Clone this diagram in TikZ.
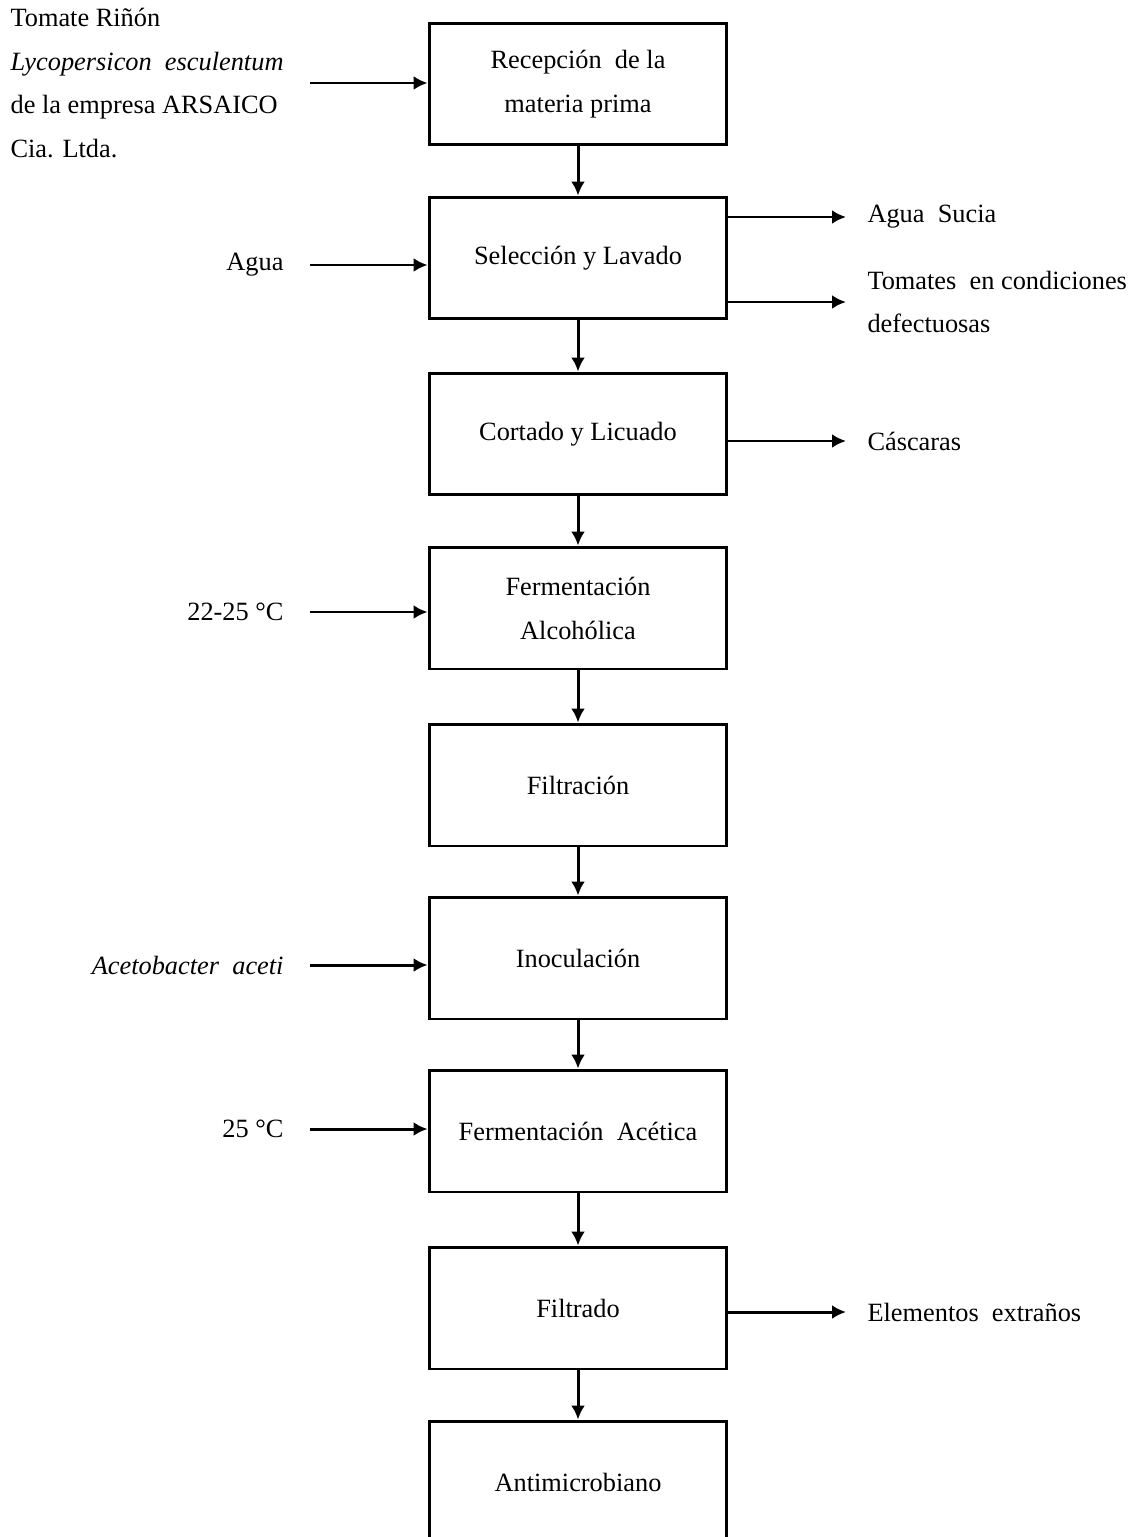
\documentclass[tikz,border=0pt]{standalone}
\usepackage{fontspec}
\setmainfont{Liberation Serif}
\usetikzlibrary{arrows.meta}

\begin{document}
\begin{tikzpicture}[x=0.02cm,y=-0.02cm,line width=1.7pt,>={Latex[length=0.28cm,width=0.28cm]},
	every node/.style={font=\fontsize{15}{25}\selectfont},
	paso/.style={draw,minimum width=5.96cm,minimum height=2.44cm,align=center,inner sep=0pt},
	entrada/.style={anchor=east,inner xsep=0.5cm,inner ysep=0pt,align=left},
	salida/.style={anchor=west,inner xsep=0.4cm,inner ysep=0pt,align=left}]
	\useasboundingbox (0,0) rectangle (1133,1537);

	% draw the process steps
	\foreach \n/\y/\t in {1/84/{Recepción\ \ de la\\materia prima},
		2/258/{Selección y Lavado},
		3/434/{Cortado y Licuado},
		4/608/{Fermentación\\Alcohólica},
		5/785/{Filtración},
		6/958/{Inoculación},
		7/1131/{Fermentación\ \ Acética},
		8/1308/{Filtrado},
		9/1482/{Antimicrobiano}} {
		\node[paso] (b\n) at (578,\y) {\t};
	}

	% arrows between the steps
	\foreach \n in {1,...,8} {
		\pgfmathtruncatemacro\m{\n+1}
		\draw[->] (b\n) -- (b\m);
	}

	% what goes in
	\node[entrada] (tomate) at (310,83) {Tomate Riñón\\\textit{Lycopersicon\ \ esculentum}\\de la empresa ARSAICO\\Cia. Ltda.};
	\node[entrada] (agua) at (310,265) {Agua};
	\node[entrada] (temp1) at (310,612) {22-25 °C};
	\node[entrada] (aceto) at (310,965) {\textit{Acetobacter\ \ aceti}};
	\node[entrada] (temp2) at (310,1129) {25 °C};

	\draw[->] (tomate.east) -- (tomate.east -| b1.west);
	\draw[->] (agua.east) -- (agua.east -| b2.west);
	\draw[->] (temp1.east) -- (temp1.east -| b4.west);
	\draw[->] (aceto.east) -- (aceto.east -| b6.west);
	\draw[->] (temp2.east) -- (temp2.east -| b7.west);

	% what comes out
	\node[salida] (sucia) at (846,217) {Agua\ \ Sucia};
	\node[salida] (defecto) at (846,302) {Tomates\ \ en condiciones\\defectuosas};
	\node[salida] (cascara) at (846,441) {Cáscaras};
	\node[salida] (extrano) at (846,1312) {Elementos\ \ extraños};

	\draw[->] (b2.east |- sucia.west) -- (sucia.west);
	\draw[->] (b2.east |- defecto.west) -- (defecto.west);
	\draw[->] (b3.east |- cascara.west) -- (cascara.west);
	\draw[->] (b8.east |- extrano.west) -- (extrano.west);
\end{tikzpicture}
\end{document}
